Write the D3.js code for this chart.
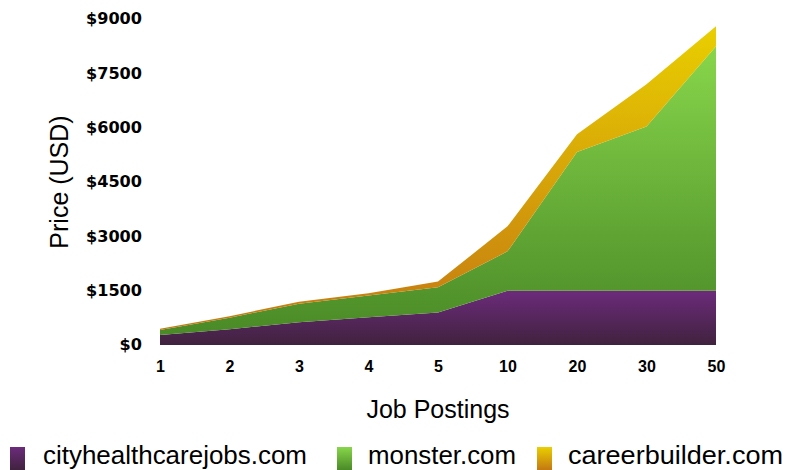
<!DOCTYPE html>
<html>
<head>
<meta charset="utf-8">
<script src="https://cdn.jsdelivr.net/npm/d3@7"></script>
<style>
  html, body { margin: 0; padding: 0; background: #fff; }
  svg { display: block; }
  text { font-family: "Liberation Sans", Arial, sans-serif; fill: #000; }
</style>
</head>
<body>
<svg id="chart" width="799" height="470"></svg>
<script>
// ---- data ----
const postings = ["1", "2", "3", "4", "5", "10", "20", "30", "50"];
const cityhealthcarejobs = [275, 435, 628, 767, 895, 1500, 1500, 1500, 1500];
const monster = [140, 320, 510, 600, 700, 1085, 3825, 4530, 6745];
const careerbuilder = [35, 40, 55, 65, 155, 690, 490, 1170, 555];
const seriesNames = ["cityhealthcarejobs.com", "monster.com", "careerbuilder.com"];
const yTicks = [0, 1500, 3000, 4500, 6000, 7500, 9000];
const xTitle = "Job Postings";
const yTitle = "Price (USD)";

// ---- styles ----
const gradStops = [
  ["#6c2b7b", "#40223e"],
  ["#88d64b", "#4a8a27"],
  ["#e9cf00", "#c47812"]
];

const svg = d3.select("#chart");
const mLeft = 160, mRight = 716, mTop = 19, mBottom = 345;

const x = d3.scalePoint().domain(postings).range([mLeft, mRight]);
const y = d3.scaleLinear().domain([0, 9000]).range([mBottom, mTop]);

const table = postings.map((p, i) => ({
  p,
  [seriesNames[0]]: cityhealthcarejobs[i],
  [seriesNames[1]]: monster[i],
  [seriesNames[2]]: careerbuilder[i]
}));
const stacked = d3.stack().keys(seriesNames)(table);

const defs = svg.append("defs");
gradStops.forEach((s, i) => {
  const g = defs.append("linearGradient")
    .attr("id", "grad" + i)
    .attr("x1", 0).attr("y1", 0).attr("x2", 0).attr("y2", 1);
  g.append("stop").attr("offset", "0%").attr("stop-color", s[0]);
  g.append("stop").attr("offset", "100%").attr("stop-color", s[1]);
});

const area = d3.area()
  .x(d => x(d.data.p))
  .y0(d => y(d[0]))
  .y1(d => y(d[1]));

svg.append("g").selectAll("path")
  .data(stacked)
  .join("path")
  .attr("d", area)
  .attr("fill", (d, i) => `url(#grad${i})`);

// ---- y axis ----
const yAxis = svg.append("g")
  .attr("transform", `translate(${mLeft},0)`)
  .call(d3.axisLeft(y).tickValues(yTicks).tickFormat(v => "$" + v).tickSize(0).tickPadding(18));
yAxis.select(".domain").remove();
yAxis.selectAll("text")
  .style("font-family", "'DejaVu Sans', sans-serif")
  .style("font-weight", "bold")
  .style("font-size", "16px")
  .attr("dy", "0.3em")
  .attr("textLength", function() { return this.textContent.length * 11.2; })
  .attr("lengthAdjust", "spacingAndGlyphs");

// ---- x axis ----
const xAxis = svg.append("g")
  .attr("transform", `translate(0,${mBottom})`)
  .call(d3.axisBottom(x).tickSize(0).tickPadding(16));
xAxis.select(".domain").remove();
xAxis.selectAll("text")
  .style("font-weight", "bold")
  .style("font-size", "16px");

// ---- titles ----
svg.append("text")
  .attr("x", (mLeft + mRight) / 2)
  .attr("y", 418)
  .attr("text-anchor", "middle")
  .style("font-size", "25px")
  .text(xTitle);

svg.append("text")
  .attr("transform", `translate(68,${(mTop + mBottom) / 2}) rotate(-90)`)
  .attr("text-anchor", "middle")
  .style("font-size", "25px")
  .text(yTitle);

// ---- legend ----
const legendX = [10, 337, 537];
const legendTextW = [264, 148, 215];
const lg = svg.append("g").selectAll("g")
  .data(seriesNames)
  .join("g")
  .attr("transform", (d, i) => `translate(${legendX[i]},447)`);
lg.append("rect")
  .attr("width", 15).attr("height", 23)
  .attr("fill", (d, i) => `url(#grad${i})`);
lg.append("text")
  .attr("x", (d, i) => i === 0 ? 33 : 31)
  .attr("y", 17)
  .style("font-size", "25px")
  .attr("textLength", (d, i) => legendTextW[i])
  .attr("lengthAdjust", "spacingAndGlyphs")
  .text(d => d);
</script>
</body>
</html>
